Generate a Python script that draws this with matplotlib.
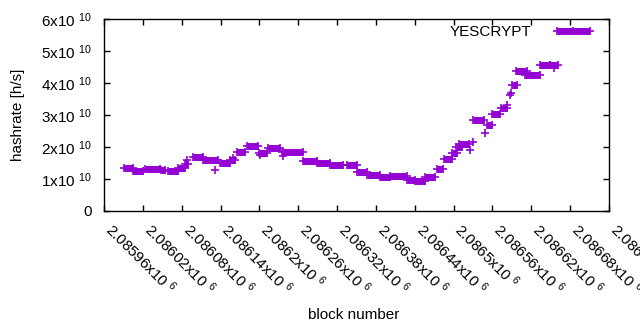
import numpy as np
import matplotlib
matplotlib.use("Agg")
import matplotlib.pyplot as plt
from matplotlib.lines import Line2D

plt.rcParams["font.family"] = ["Liberation Sans", "DejaVu Sans"]
plt.rcParams["mathtext.fontset"] = "custom"
plt.rcParams["mathtext.rm"] = "Liberation Sans"
plt.rcParams["mathtext.it"] = "Liberation Sans"
plt.rcParams["mathtext.default"] = "regular"

COLOR = "#9400D3"

# runs of (nearly) constant hashrate: first block, last block, rate [1e10 h/s]
run_start = [2085991, 2086005, 2086023, 2086048, 2086059, 2086074, 2086085,
             2086097, 2086113, 2086139, 2086155, 2086165, 2086181, 2086199,
             2086213, 2086235, 2086267, 2086289, 2086309, 2086335, 2086351,
             2086366, 2086386, 2086402, 2086428, 2086440, 2086456, 2086474,
             2086485, 2086498, 2086504, 2086508, 2086530, 2086552, 2086559,
             2086573, 2086590, 2086596, 2086610, 2086633, 2086649, 2086660]
run_end = [2086005, 2086020, 2086046, 2086054, 2086074, 2086085, 2086090,
           2086113, 2086136, 2086155, 2086162, 2086178, 2086198, 2086212,
           2086232, 2086267, 2086289, 2086309, 2086329, 2086351, 2086366,
           2086386, 2086402, 2086428, 2086440, 2086456, 2086471, 2086484,
           2086498, 2086505, 2086513, 2086524, 2086547, 2086559, 2086572,
           2086582, 2086598, 2086613, 2086633, 2086649, 2086661, 2086710]
run_rate = [1.34, 1.25, 1.31, 1.28, 1.25, 1.34, 1.47,
            1.69, 1.59, 1.50, 1.59, 1.84, 2.03, 1.81,
            1.97, 1.84, 1.56, 1.50, 1.44, 1.44, 1.22,
            1.13, 1.06, 1.09, 0.97, 0.94, 1.06, 1.31,
            1.63, 1.81, 2.00, 2.09, 2.84, 2.69, 3.03,
            3.22, 3.94, 4.38, 4.25, 4.56, 4.56, 5.63]

# scattered single estimates
pt_block = [2086088, 2086132, 2086160, 2086201, 2086237, 2086525, 2086530,
            2086548, 2086582, 2086587, 2086588, 2086655]
pt_rate = [1.59, 1.28, 1.66, 1.75, 1.72, 1.91, 2.16,
           2.44, 3.31, 3.63, 3.69, 4.47]

x_ticks = np.arange(2085960, 2086741, 60)
x_tick_labels = ["2.08596", "2.08602", "2.08608", "2.08614", "2.0862",
                 "2.08626", "2.08632", "2.08638", "2.08644", "2.0865",
                 "2.08656", "2.08662", "2.08668", "2.08674"]
y_ticks = [0, 1, 2, 3, 4, 5, 6]

fig = plt.figure(figsize=(6.4, 3.3), dpi=100)
ax = fig.add_axes([104 / 640, 1 - 211 / 330, 505 / 640, 192 / 330])

rs = np.array(run_start)
re = np.array(run_end)
rr = np.array(run_rate) * 1e10
ax.hlines(rr, rs, re, colors=COLOR, linewidth=5, capstyle="butt")
ax.plot(np.concatenate([rs, re]), np.concatenate([rr, rr]), "+", color=COLOR,
        markersize=6, markeredgewidth=1.2, linestyle="none")
ax.plot(pt_block, np.array(pt_rate) * 1e10, "+", color=COLOR,
        markersize=6, markeredgewidth=1.2, linestyle="none")

ax.set_xlim(x_ticks[0], x_ticks[-1])
ax.set_ylim(0, 6e10)

ax.set_xticks(x_ticks)
ax.set_xticklabels([s + "x10 $^{6}$" for s in x_tick_labels],
                   rotation=-45, ha="left", va="baseline", rotation_mode="anchor",
                   fontsize=11)
ax.set_yticks([v * 1e10 for v in y_ticks])
ax.set_yticklabels(["0"] + [f"{v}x10 $^{{10}}$" for v in y_ticks[1:]], fontsize=11)

ax.tick_params(direction="in", length=4, width=1, top=True, right=True)
ax.tick_params(axis="y", pad=9)
ax.tick_params(axis="x", pad=14)
for sp in ax.spines.values():
    sp.set_linewidth(1)

ax.set_ylabel("hashrate [h/s]", fontsize=11)
ax.yaxis.set_label_coords(-0.156, 0.5)
ax.set_xlabel("block number", fontsize=11)
ax.xaxis.set_label_coords(0.495, -0.505)

handle = Line2D([], [], color=COLOR, marker="+", linestyle="none",
                markersize=6, markeredgewidth=1.2)
ax.legend([handle], ["YESCRYPT"], loc="upper right", frameon=False,
          markerfirst=False, handlelength=3.85, fontsize=11,
          borderaxespad=0.0)

fig.savefig("out.png", dpi=100)
